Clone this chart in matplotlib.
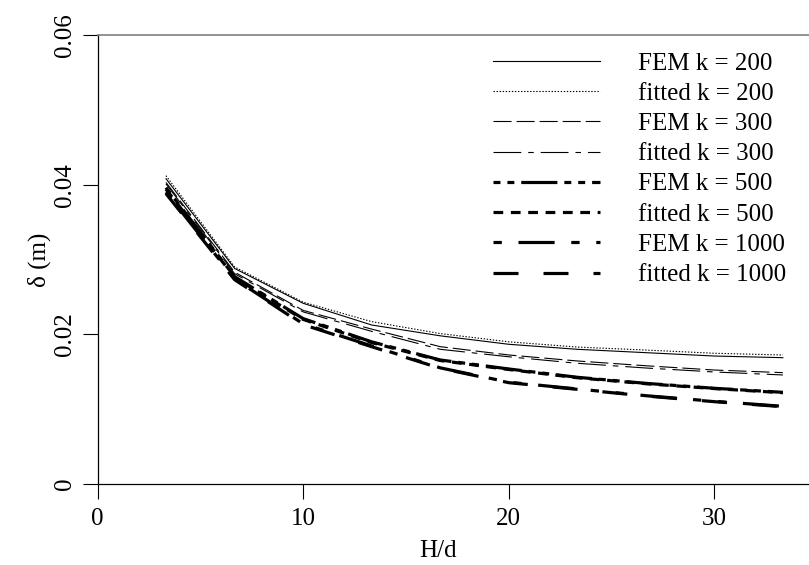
import matplotlib
matplotlib.use("Agg")
import matplotlib.pyplot as plt

plt.rcParams['font.family'] = ['Liberation Serif', 'DejaVu Serif']
plt.rcParams['lines.scale_dashes'] = False

hd = [3.33, 6.67, 10.0, 13.33, 16.67, 20.0, 23.33, 26.67, 30.0, 33.33]

fem_200    = [0.0408, 0.0288, 0.02415, 0.02125, 0.0198, 0.01867, 0.0180, 0.01755, 0.0171, 0.01688]
fit_200    = [0.0412, 0.0290, 0.0243, 0.0217, 0.0201, 0.0190, 0.0183, 0.0179, 0.01747, 0.01724]
fem_300    = [0.0403, 0.0283, 0.0232, 0.0207, 0.01835, 0.01724, 0.01644, 0.0158, 0.01523, 0.01488]
fit_300    = [0.0401, 0.0281, 0.0230, 0.0204, 0.0180, 0.0170, 0.01613, 0.0155, 0.01497, 0.01457]
fem_500    = [0.0396, 0.0277, 0.0221, 0.0190, 0.01657, 0.01537, 0.01426, 0.01345, 0.01279, 0.01225]
fit_500    = [0.0394, 0.0276, 0.0220, 0.0189, 0.0165, 0.01530, 0.0142, 0.0134, 0.01275, 0.0122]
fem_1000   = [0.0390, 0.0274, 0.0214, 0.01845, 0.01552, 0.01360, 0.0127, 0.0118, 0.01105, 0.01038]
fit_1000   = [0.0388, 0.0273, 0.0213, 0.01835, 0.01546, 0.01354, 0.01265, 0.01176, 0.0110, 0.01033]

labels = ["FEM k = 200", "fitted k = 200", "FEM k = 300", "fitted k = 300",
          "FEM k = 500", "fitted k = 500", "FEM k = 1000", "fitted k = 1000"]
series = [fem_200, fit_200, fem_300, fit_300, fem_500, fit_500, fem_1000, fit_1000]

styles = [
    dict(lw=0.8, ls='-'),
    dict(lw=0.8, ls=(0, (1.0, 1.2))),
    dict(lw=0.8, ls=(0, (13, 3.6))),
    dict(lw=0.8, ls=(0, (20, 5, 4, 5))),
    dict(lw=2.3, ls=(0, (5, 5, 5, 5, 26, 5))),
    dict(lw=2.3, ls=(0, (7, 5.5))),
    dict(lw=2.3, ls=(0, (6, 12, 26, 12, 6, 12))),
    dict(lw=2.3, ls=(0, (18, 18))),
]

fig = plt.figure(figsize=(8.09, 5.65), dpi=100)
ax = fig.add_axes([97.5/809, 81/565, 1 - 97.5/809, 449/565])

handles = []
for y, lab, st in zip(series, labels, styles):
    h, = ax.plot(hd, y, color='black', label=lab, **st)
    handles.append(h)

ax.set_xlim(0, 34.6)
ax.set_ylim(0, 0.06)
ax.set_xticks([0, 10, 20, 30])
ax.set_xticklabels(["0", "10", "20", "30"])
ax.set_yticks([0, 0.02, 0.04, 0.06])
ax.set_yticklabels(["0", "0.02", "0.04", "0.06"], rotation=90, va='center')
ax.tick_params(axis='both', direction='out', length=10.8, width=0.8, labelsize=18)
ax.tick_params(axis='x', pad=6.5)
ax.tick_params(axis='y', pad=4.5)

ax.spines['right'].set_visible(False)
ax.spines['top'].set_color('#808080')
ax.spines['top'].set_linewidth(1.2)
ax.spines['left'].set_linewidth(0.9)
ax.spines['bottom'].set_linewidth(0.9)

ax.set_xlabel("H/d", fontsize=18)
ax.set_ylabel("δ (m)", fontsize=18)
ax.xaxis.set_label_coords(0.479, -0.125)
ax.yaxis.set_label_coords(-0.066, 0.5)

fig.legend(handles=handles, labels=labels, loc='upper left',
           bbox_to_anchor=(493/809, 1 - 52/565), frameon=False,
           fontsize=18, handlelength=4.28, handletextpad=1.5,
           labelspacing=0.31, borderpad=0, borderaxespad=0)

fig.savefig("out.png", dpi=100)
